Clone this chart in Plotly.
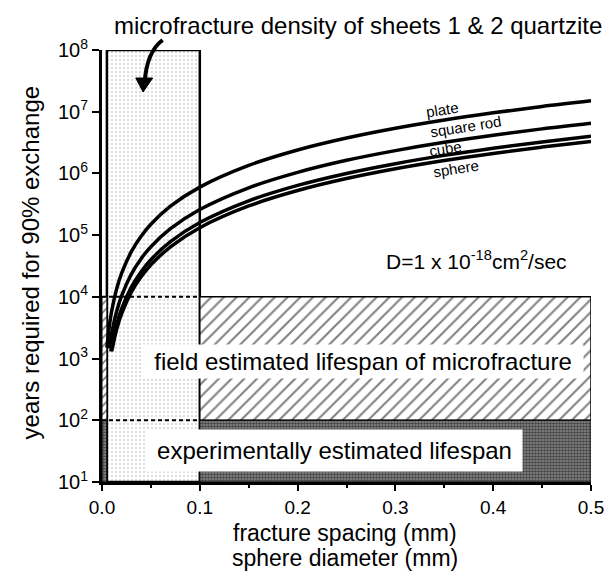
import plotly.graph_objects as go

# ---------------- data ----------------
spacing_mm = [0.005, 0.0075, 0.009, 0.01, 0.015, 0.02, 0.03, 0.04, 0.05, 0.07,
              0.1, 0.15, 0.2, 0.25, 0.3, 0.35, 0.4, 0.45, 0.5]
plate_yr = [1500, 3375, 4860, 6000, 13500, 24000, 54000, 96000, 150000, 294000,
            600000, 1350000, 2400000, 3750000, 5400000, 7350000, 9600000, 12150000, 15000000]
square_rod_yr = [None, 1460, 2100, 2600, 5850, 10400, 23400, 41600, 65000, 127000,
                 260000, 585000, 1040000, 1630000, 2340000, 3190000, 4160000, 5270000, 6500000]
cube_yr = [None, None, 1300, 1600, 3600, 6400, 14400, 25600, 40000, 78400,
           160000, 360000, 640000, 1000000, 1440000, 1960000, 2560000, 3240000, 4000000]
sphere_yr = [None, None, None, 1320, 2970, 5280, 11900, 21100, 33000, 64700,
             132000, 297000, 528000, 825000, 1190000, 1620000, 2110000, 2670000, 3300000]

density_band_mm = [0.005, 0.1]        # microfracture density of sheets 1 & 2
edge_strip_mm = [0.0, 0.005]
field_lifespan_yr = [1e2, 1e4]
exp_lifespan_yr = [1e1, 1e2]
x_extent = [0.0, 0.5]
y_extent = [1e1, 1e8]

x_ticks = [0.0, 0.1, 0.2, 0.3, 0.4, 0.5]
x_tick_labels = ["0.0", "0.1", "0.2", "0.3", "0.4", "0.5"]
y_ticks = [1e1, 1e2, 1e3, 1e4, 1e5, 1e6, 1e7, 1e8]
y_tick_labels = ["10<sup>%d</sup>" % i for i in range(1, 9)]

FONT = "Liberation Sans, Arial, Helvetica, sans-serif"

fig = go.Figure()


def rect(xr, yr, pattern=None, fill="white", line_w=0, line_c="black"):
    kw = dict(
        x=[xr[0], xr[1], xr[1], xr[0], xr[0]],
        y=[yr[0], yr[0], yr[1], yr[1], yr[0]],
        mode="lines", fill="toself", fillcolor=fill,
        line=dict(width=line_w, color=line_c),
        hoverinfo="skip", showlegend=False,
    )
    if pattern:
        kw["fillpattern"] = pattern
    return go.Scatter(**kw)


dark_pat = dict(shape=".", fgcolor="black", bgcolor="#8c8c8c", size=3, solidity=0.6)

# light stipple band (microfracture density)
fig.add_trace(rect(density_band_mm, y_extent,
                   pattern=dict(shape=".", fgcolor="#9a9a9a", bgcolor="white",
                                size=4, solidity=0.16),
                   line_w=2.5))
# hatched field-lifespan region
fig.add_trace(rect([density_band_mm[1], x_extent[1]], field_lifespan_yr,
                   pattern=dict(shape="/", fgcolor="black", bgcolor="white",
                                size=9, solidity=0.22),
                   line_w=1.5))
fig.add_trace(rect(edge_strip_mm, field_lifespan_yr,
                   pattern=dict(shape="/", fgcolor="black", bgcolor="white",
                                size=6, solidity=0.3),
                   line_w=1))
# dark stipple experimental-lifespan region
fig.add_trace(rect([density_band_mm[1], x_extent[1]], exp_lifespan_yr,
                   pattern=dark_pat, line_w=1))
fig.add_trace(rect(edge_strip_mm, exp_lifespan_yr, pattern=dark_pat, line_w=1))

# dashed lifespan lines across the density band
for yv in (field_lifespan_yr[1], field_lifespan_yr[0]):
    fig.add_trace(go.Scatter(x=[x_extent[0], density_band_mm[1]], y=[yv, yv],
                             mode="lines", line=dict(color="black", width=2, dash="4px,3px"),
                             hoverinfo="skip", showlegend=False))

# curves
for name, ys in zip(["plate", "square rod", "cube", "sphere"],
                    [plate_yr, square_rod_yr, cube_yr, sphere_yr]):
    fig.add_trace(go.Scatter(x=spacing_mm, y=ys, mode="lines", name=name,
                             line=dict(color="black", width=3.5, shape="spline"),
                             showlegend=False))


def px2paper(px, py):
    return (px - 102) / 492.0, (482 - py) / 432.0


def ann(px, py, text, size, **kw):
    x, y = px2paper(px, py)
    d = dict(x=x, y=y, xref="paper", yref="paper", text=text, showarrow=False,
             xanchor="center", yanchor="middle",
             font=dict(family=FONT, size=size, color="black"))
    d.update(kw)
    return d


annotations = []
# curve labels
for txt, (px, py) in [("plate", (445, 110)), ("square rod", (468, 127)),
                      ("cube", (448, 148)), ("sphere", (458, 168))]:
    annotations.append(ann(px, py, txt, 15, textangle=-9))

# D text
annotations.append(ann(572, 260, "D=1 x 10<sup>-18</sup>cm<sup>2</sup>/sec", 21,
                       xanchor="right"))

# white boxes with text
annotations.append(ann(365, 361.5, "field estimated lifespan of microfracture", 24,
                       bgcolor="white", width=440, height=33, borderpad=0))
annotations.append(ann(335.5, 450.5, "experimentally estimated lifespan", 24,
                       bgcolor="white", width=375, height=41, borderpad=0))

# title at top
annotations.append(ann(112, 26, "microfracture density of sheets 1 & 2 quartzite", 24,
                       xanchor="left"))

# axis titles
annotations.append(ann(30, 262, "years required for 90% exchange", 24, textangle=-90))
annotations.append(ann(346, 533, "fracture spacing (mm)", 23))
annotations.append(ann(346, 558, "sphere diameter (mm)", 23))

# curved arrow
p = [px2paper(163, 40), px2paper(147, 52), px2paper(145, 82)]
hd = [px2paper(143.3, 92), px2paper(136, 78), px2paper(153, 78)]
shapes = [
    dict(type="path", xref="paper", yref="paper",
         path="M %f,%f Q %f,%f %f,%f" % (p[0][0], p[0][1], p[1][0], p[1][1], p[2][0], p[2][1]),
         line=dict(color="black", width=4)),
    dict(type="path", xref="paper", yref="paper",
         path="M %f,%f L %f,%f L %f,%f Z" % (hd[0][0], hd[0][1], hd[1][0], hd[1][1], hd[2][0], hd[2][1]),
         fillcolor="black", line=dict(color="black", width=1)),
]

fig.update_layout(
    width=616, height=577,
    margin=dict(l=102, r=22, t=50, b=95),
    paper_bgcolor="white", plot_bgcolor="white",
    font=dict(family=FONT, size=20, color="black"),
    annotations=annotations, shapes=shapes,
    xaxis=dict(range=x_extent, tickvals=x_ticks, ticktext=x_tick_labels,
               ticks="outside", ticklen=6, tickwidth=2, tickcolor="black",
               minor=dict(tickvals=[0.05, 0.15, 0.25, 0.35, 0.45], ticks="outside",
                          ticklen=3, tickwidth=1.5, tickcolor="black"),
               showline=True, linecolor="black", linewidth=2.5,
               showgrid=False, zeroline=False,
               tickfont=dict(family=FONT, size=19, color="black")),
    yaxis=dict(type="log", range=[1, 8], tickvals=y_ticks, ticktext=y_tick_labels,
               ticks="outside", ticklen=7, tickwidth=2, tickcolor="black",
               showline=True, linecolor="black", linewidth=3,
               showgrid=False, zeroline=False,
               tickfont=dict(family=FONT, size=20, color="black")),
)

fig.write_html("out.html")
